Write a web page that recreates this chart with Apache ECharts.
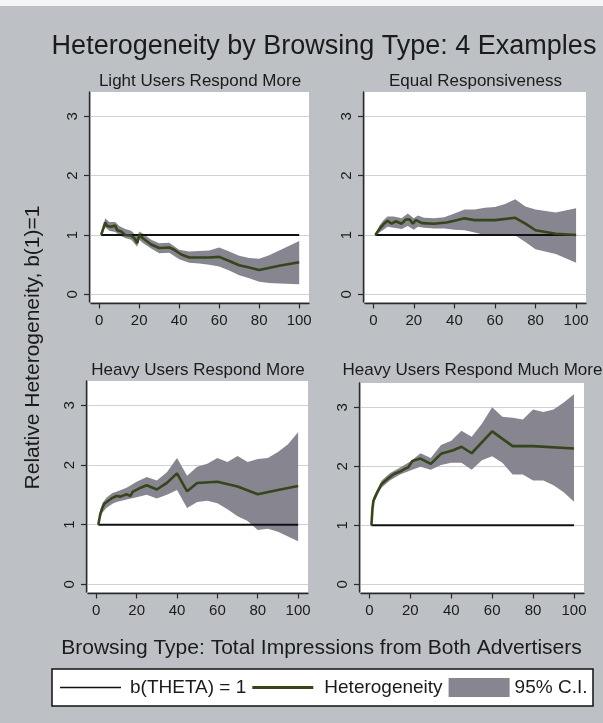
<!DOCTYPE html>
<html>
<head>
<meta charset="utf-8">
<script src="https://cdn.jsdelivr.net/npm/echarts@6/dist/echarts.min.js"></script>
<style>
  html, body { margin: 0; padding: 0; background: #bdc0c4; }
  #chart { width: 603px; height: 723px; }
</style>
</head>
<body>
<div id="chart"></div>
<script>
// ---- Axis ticks and labels ----
const xTicks = [0, 20, 40, 60, 80, 100];
const yTicks = [0, 1, 2, 3];
const panelTitles = ['Light Users Respond More', 'Equal Responsiveness',
                     'Heavy Users Respond More', 'Heavy Users Respond Much More'];
const legendNames = ['b(THETA) = 1', 'Heterogeneity', '95% C.I.'];

// ---- Reference line b(THETA) = 1 ----
const refX = [1, 100];
const refY = [1, 1];

// ---- Light users respond more ----
const lightX  = [1, 3, 4, 6, 8, 9, 11, 13, 16, 18, 19, 20, 22, 26, 30, 35, 37, 41, 45, 50, 55, 60, 65, 70, 75, 80, 90, 100];
const lightY  = [1.00, 1.21, 1.15, 1.14, 1.16, 1.08, 1.06, 1.00, 0.99, 0.93, 0.86, 1.00, 0.94, 0.84, 0.78, 0.79, 0.76, 0.67, 0.62, 0.62, 0.62, 0.63, 0.56, 0.49, 0.45, 0.41, 0.48, 0.54];
const lightCiX  = [1, 3, 5, 8, 10, 13, 16, 19, 20, 22, 26, 30, 35, 40, 45, 50, 55, 60, 65, 70, 75, 80, 85, 90, 100];
const lightCiLo = [1.00, 1.13, 1.07, 1.05, 1.00, 0.95, 0.92, 0.80, 0.92, 0.86, 0.77, 0.69, 0.70, 0.59, 0.53, 0.52, 0.50, 0.47, 0.40, 0.32, 0.27, 0.21, 0.19, 0.18, 0.17];
const lightCiHi = [1.00, 1.28, 1.22, 1.22, 1.15, 1.10, 1.07, 0.97, 1.06, 1.02, 0.92, 0.86, 0.87, 0.75, 0.72, 0.73, 0.74, 0.79, 0.72, 0.65, 0.61, 0.60, 0.66, 0.74, 0.90];

// ---- Equal responsiveness ----
const equalX  = [1, 3, 5, 7, 9, 11, 14, 16, 18, 19.5, 21, 24, 30, 36, 40, 45, 50, 60, 70, 75, 80, 90, 100];
const equalY  = [1.00, 1.10, 1.18, 1.24, 1.19, 1.23, 1.19, 1.26, 1.26, 1.19, 1.25, 1.20, 1.19, 1.21, 1.24, 1.28, 1.25, 1.25, 1.29, 1.19, 1.08, 1.02, 1.00];
const equalCiX  = [1, 3, 5, 7, 10, 14, 17, 20, 22, 25, 30, 35, 40, 45, 50, 55, 60, 65, 70, 75, 80, 90, 100];
const equalCiLo = [1.00, 1.04, 1.09, 1.14, 1.12, 1.10, 1.15, 1.09, 1.14, 1.12, 1.11, 1.11, 1.09, 1.08, 1.04, 1.00, 1.00, 0.99, 0.99, 0.88, 0.76, 0.68, 0.53];
const equalCiHi = [1.00, 1.16, 1.25, 1.31, 1.31, 1.28, 1.36, 1.28, 1.33, 1.29, 1.28, 1.30, 1.36, 1.43, 1.43, 1.46, 1.47, 1.52, 1.60, 1.48, 1.43, 1.38, 1.45];

// ---- Heavy users respond more ----
const heavyX  = [1, 2, 3, 4, 6, 8, 10, 12, 15, 17, 18, 22, 25, 30, 35, 40, 45, 50, 60, 70, 80, 90, 100];
const heavyY  = [1.00, 1.18, 1.28, 1.35, 1.40, 1.45, 1.48, 1.47, 1.51, 1.48, 1.55, 1.62, 1.66, 1.59, 1.70, 1.86, 1.56, 1.70, 1.72, 1.64, 1.51, 1.58, 1.65];
const heavyCiX  = [1, 2, 3, 5, 8, 10, 15, 20, 25, 30, 35, 40, 45, 50, 55, 60, 65, 70, 75, 80, 85, 90, 95, 100];
const heavyCiLo = [1.00, 1.12, 1.20, 1.28, 1.35, 1.38, 1.42, 1.46, 1.50, 1.44, 1.50, 1.58, 1.28, 1.38, 1.40, 1.36, 1.26, 1.14, 1.06, 0.91, 0.93, 0.88, 0.80, 0.72];
const heavyCiHi = [1.00, 1.24, 1.36, 1.45, 1.53, 1.55, 1.62, 1.72, 1.80, 1.74, 1.88, 2.12, 1.82, 1.97, 2.02, 2.12, 2.05, 2.15, 2.05, 2.10, 2.12, 2.22, 2.35, 2.55];

// ---- Heavy users respond much more ----
const heavierX  = [1, 1.5, 2, 4, 6, 9, 12, 15, 17.5, 19, 21, 25, 30, 35, 41, 45, 50, 60, 70, 80, 100];
const heavierY  = [1.00, 1.28, 1.42, 1.57, 1.70, 1.79, 1.87, 1.91, 1.96, 1.98, 2.09, 2.13, 2.04, 2.21, 2.27, 2.33, 2.22, 2.59, 2.34, 2.34, 2.30];
const heavierCiX  = [1, 2, 4, 6, 10, 15, 20, 25, 30, 35, 40, 45, 50, 55, 60, 65, 70, 75, 80, 85, 90, 95, 100];
const heavierCiLo = [1.00, 1.36, 1.52, 1.64, 1.76, 1.86, 1.93, 1.99, 1.94, 2.02, 2.06, 2.06, 1.94, 2.10, 2.17, 2.06, 1.86, 1.86, 1.76, 1.76, 1.68, 1.56, 1.40];
const heavierCiHi = [1.00, 1.48, 1.62, 1.76, 1.88, 1.98, 2.08, 2.22, 2.14, 2.36, 2.43, 2.60, 2.50, 2.72, 3.00, 2.84, 2.82, 2.79, 2.96, 2.92, 2.96, 3.08, 3.22];

// ---- Assemble panels ----
const panelData = [
  { lx: lightX,   ly: lightY,   bx: lightCiX,   lo: lightCiLo,   hi: lightCiHi },
  { lx: equalX,   ly: equalY,   bx: equalCiX,   lo: equalCiLo,   hi: equalCiHi },
  { lx: heavyX,   ly: heavyY,   bx: heavyCiX,   lo: heavyCiLo,   hi: heavyCiHi },
  { lx: heavierX, ly: heavierY, bx: heavierCiX, lo: heavierCiLo, hi: heavierCiHi }
];

const FONT = "'Liberation Sans', Arial, Helvetica, sans-serif";
const TEXT = '#1b1b1b';
const BAND = '#87858f';
const GREEN = '#36451a';

const boxes = [
  { left: 91,  top: 92,  width: 218, height: 210 },
  { left: 365, top: 92,  width: 221, height: 210 },
  { left: 88,  top: 381, width: 220, height: 211 },
  { left: 361, top: 383, width: 223, height: 209 }
];

const pairs = (xs, ys) => xs.map((x, k) => [x, ys[k]]);

function bandRenderer(bx, lo, hi) {
  return function (params, api) {
    if (params.dataIndex !== 0) return;
    const pts = [];
    for (let k = 0; k < bx.length; k++) pts.push(api.coord([bx[k], hi[k]]));
    for (let k = bx.length - 1; k >= 0; k--) pts.push(api.coord([bx[k], lo[k]]));
    return { type: 'polygon', shape: { points: pts }, style: { fill: BAND } };
  };
}

const grid = [], xAxis = [], yAxis = [], series = [], title = [];

boxes.forEach((b, i) => {
  grid.push(Object.assign({ show: true, backgroundColor: '#ffffff', borderWidth: 0 }, b));
  xAxis.push({
    type: 'value', gridIndex: i, min: -4.1, max: 104.9, offset: 1.5,
    axisLine: { show: true, onZero: false, lineStyle: { color: '#2a2a2a', width: 1.4 } },
    axisTick: { show: true, length: 5, customValues: xTicks, lineStyle: { color: '#2a2a2a', width: 1.2 } },
    axisLabel: { customValues: xTicks, fontSize: 15, color: TEXT, fontFamily: FONT, margin: 10 },
    splitLine: { show: false }
  });
  yAxis.push({
    type: 'value', gridIndex: i, min: -0.13, max: 3.41, offset: 2,
    axisLine: { show: true, onZero: false, lineStyle: { color: '#2a2a2a', width: 1.4 } },
    axisTick: { show: true, length: 5, customValues: yTicks, lineStyle: { color: '#2a2a2a', width: 1.2 } },
    axisLabel: { customValues: yTicks, rotate: 90, fontSize: 15, color: TEXT, fontFamily: FONT, margin: 9 },
    splitLine: { show: false }
  });
  title.push({
    text: panelTitles[i], left: b.left + b.width / 2, top: i < 2 ? 81 : 370.5,
    textAlign: 'center', textVerticalAlign: 'middle', padding: 0,
    textStyle: { fontSize: 17, fontWeight: 'normal', color: TEXT, fontFamily: FONT }
  });

  const d = panelData[i];
  // horizontal grid lines at the y ticks
  series.push({
    type: 'line', xAxisIndex: i, yAxisIndex: i, data: [], z: 1, silent: true,
    markLine: {
      silent: true, symbol: 'none', z: 1, label: { show: false },
      lineStyle: { color: '#cdd1d8', width: 1, type: 'solid' },
      data: yTicks.map(v => ({ yAxis: v }))
    }
  });
  // 95% confidence band
  series.push({
    type: 'custom', name: legendNames[2], xAxisIndex: i, yAxisIndex: i, z: 5, silent: true,
    itemStyle: { color: BAND },
    data: d.bx.map((x, k) => [x, d.lo[k], d.hi[k]]),
    encode: { x: 0, y: [1, 2] },
    renderItem: bandRenderer(d.bx, d.lo, d.hi)
  });
  // reference line
  series.push({
    type: 'line', name: legendNames[0], xAxisIndex: i, yAxisIndex: i, z: 6, silent: true,
    symbol: 'none', data: pairs(refX, refY),
    itemStyle: { color: '#111111' }, lineStyle: { color: '#111111', width: 2 }
  });
  // heterogeneity estimate
  series.push({
    type: 'line', name: legendNames[1], xAxisIndex: i, yAxisIndex: i, z: 7, silent: true,
    symbol: 'none', data: pairs(d.lx, d.ly),
    itemStyle: { color: GREEN }, lineStyle: { color: GREEN, width: 2.6 }
  });
});

title.push({
  text: 'Heterogeneity by Browsing Type: 4 Examples', left: 324, top: 47,
  textAlign: 'center', textVerticalAlign: 'middle', padding: 0,
  textStyle: { fontSize: 27, fontWeight: 'normal', color: TEXT, fontFamily: FONT }
});
title.push({
  text: 'Browsing Type: Total Impressions from Both Advertisers', left: 321.5, top: 648,
  textAlign: 'center', textVerticalAlign: 'middle', padding: 0,
  textStyle: { fontSize: 21, fontWeight: 'normal', color: TEXT, fontFamily: FONT }
});

const chart = echarts.init(document.getElementById('chart'), null, { renderer: 'canvas' });
chart.setOption({
  backgroundColor: '#bdc0c4',
  animation: false,
  textStyle: { fontFamily: FONT },
  title: title,
  grid: grid,
  xAxis: xAxis,
  yAxis: yAxis,
  series: series,
  legend: {
    left: 60, top: 678, padding: 0, itemWidth: 61, itemHeight: 19, itemGap: 6,
    selectedMode: false, z: 10, symbolKeepAspect: true,
    textStyle: { fontSize: 19, color: TEXT, fontFamily: FONT },
    data: [
      { name: legendNames[0], icon: 'path://M0,0H61V1.6H0Z', textStyle: { padding: [0, 0, 0, 4] } },
      { name: legendNames[1], icon: 'path://M0,0H61V2.8H0Z', textStyle: { padding: [0, 0, 0, 6] } },
      { name: legendNames[2], icon: 'rect' }
    ]
  },
  graphic: [
    { type: 'rect', left: 0, top: 0, shape: { width: 603, height: 6 }, style: { fill: '#f4f5f6' }, z: 0 },
    { type: 'rect', shape: { x: 52, y: 669, width: 541, height: 37 },
      style: { fill: '#ffffff', stroke: '#111111', lineWidth: 1.5 }, z: 0 },
    { type: 'text', x: 33, y: 347.5, rotation: Math.PI / 2,
      style: { text: 'Relative Heterogeneity, b(1)=1', fontSize: 21, fontFamily: FONT, fill: TEXT,
               textAlign: 'center', textVerticalAlign: 'middle' }, z: 10 }
  ]
});
</script>
</body>
</html>
